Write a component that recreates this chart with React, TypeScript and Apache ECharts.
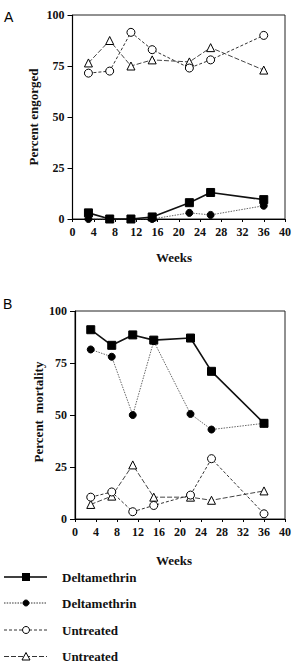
import React, { useEffect, useRef } from "react";
import * as echarts from "echarts";

const weeks = [3, 7, 11, 15, 22, 26, 36];
const xTicks = [0, 40, 4];
const yTicks = [0, 100, 25];

// Panel A: percent engorged
const engDeltaSquare = [3, 0, 0, 1, 8, 13, 9.5];
const engDeltaDot = [0, 0, 0, 0, 3, 2, 6.5];
const engUntreatedCircle = [71.5, 72.5, 91.5, 83, 74, 78, 90];
const engUntreatedTriangle = [76.5, 87.5, 75, 78, 77, 84, 73];

// Panel B: percent mortality
const morDeltaSquare = [91, 83.5, 88.5, 86, 87, 71, 46];
const morDeltaDot = [81.5, 78, 50, 85.5, 50.5, 43, 46];
const morUntreatedCircle = [10.5, 13, 3.5, 6.5, 11.5, 29, 2.5];
const morUntreatedTriangle = [7, 11, 26, 10.5, 10.5, 9, 13.5];

const legendNames = ["Deltamethrin", "Deltamethrin", "Untreated", "Untreated"];

const SERIF = "'Liberation Serif', 'DejaVu Serif', serif";

export default function App() {
  const ref = useRef<HTMLDivElement>(null);
  useEffect(() => {
    document.body.style.margin = "0";
    const chart = echarts.init(ref.current!, null, { renderer: "svg" });
    const pair = (ys: number[]) => weeks.map((w, i) => [w, ys[i]]);

    const styles = [
      { symbol: "rect", size: 8, fill: "#000", line: { color: "#111", width: 1.6, type: "solid" as any } },
      { symbol: "circle", size: 7, fill: "#000", line: { color: "#666", width: 1, type: [1.5, 1.2] as any } },
      { symbol: "circle", size: 8, fill: "#fff", line: { color: "#333", width: 1, type: [3, 2] as any } },
      { symbol: "triangle", size: 8, fill: "#fff", line: { color: "#444", width: 1, type: [5, 2] as any } },
    ];

    const mk = (data: number[], k: number, gi: number) => {
      const s = styles[k];
      return {
        type: "line",
        xAxisIndex: gi,
        yAxisIndex: gi,
        data: pair(data),
        symbol: s.symbol,
        symbolSize: s.size,
        showAllSymbol: true,
        lineStyle: s.line,
        itemStyle: { color: s.fill, borderColor: "#000", borderWidth: 1 },
        z: 10 - k,
        silent: true,
      };
    };

    const xAxis = (gi: number) => ({
      type: "value",
      gridIndex: gi,
      min: xTicks[0],
      max: xTicks[1],
      interval: xTicks[2],
      axisLine: { show: true, onZero: false, lineStyle: { color: "#000", width: 1.2 } },
      axisTick: { show: true, inside: false, length: 3, lineStyle: { color: "#000" } },
      axisLabel: { color: "#111", fontFamily: SERIF, fontWeight: "bold", fontSize: 12, margin: 7 },
      splitLine: { show: false },
    });
    const yAxis = (gi: number) => ({
      type: "value",
      gridIndex: gi,
      min: yTicks[0],
      max: yTicks[1],
      interval: yTicks[2],
      axisLine: { show: true, onZero: false, lineStyle: { color: "#000", width: 1.2 } },
      axisTick: { show: true, inside: false, length: 5, lineStyle: { color: "#000" } },
      axisLabel: { color: "#111", fontFamily: SERIF, fontWeight: "bold", fontSize: 12, margin: 8 },
      splitLine: { show: false },
    });

    const titleStyle = { fill: "#111", font: `bold 13px ${SERIF}` };
    const graphics: any[] = [
      { type: "text", left: 4, top: 10, style: { text: "A", fill: "#000", font: "14px 'Liberation Sans', Arial, sans-serif" } },
      { type: "text", left: 3, top: 297, style: { text: "B", fill: "#000", font: "14px 'Liberation Sans', Arial, sans-serif" } },
      { type: "text", x: 174, y: 257, style: { ...titleStyle, text: "Weeks", align: "center", verticalAlign: "middle" } },
      { type: "text", x: 174, y: 560, style: { ...titleStyle, text: "Weeks", align: "center", verticalAlign: "middle" } },
      { type: "text", x: 33, y: 117, rotation: Math.PI / 2, style: { ...titleStyle, text: "Percent engorged", align: "center", verticalAlign: "middle" } },
      { type: "text", x: 38, y: 412, rotation: Math.PI / 2, style: { ...titleStyle, text: "Percent  mortality", align: "center", verticalAlign: "middle" } },
    ];

    const rowsY = [577, 603, 630, 656.5];
    rowsY.forEach((y, k) => {
      const s = styles[k];
      graphics.push({
        type: "line",
        shape: { x1: 4, y1: y, x2: 47, y2: y },
        style: { stroke: k === 0 ? "#000" : "#333", lineWidth: s.line.width, lineDash: k === 0 ? null : s.line.type },
      });
      if (s.symbol === "rect") {
        graphics.push({ type: "rect", shape: { x: 22, y: y - 4, width: 8, height: 8 }, style: { fill: "#000" } });
      } else if (s.symbol === "circle") {
        graphics.push({ type: "circle", shape: { cx: 26, cy: y, r: s.size / 2 - 0.5 }, style: { fill: s.fill, stroke: "#000", lineWidth: 1 } });
      } else {
        graphics.push({ type: "polygon", shape: { points: [[26, y - 4], [30, y + 3.5], [22, y + 3.5]] }, style: { fill: "#fff", stroke: "#000", lineWidth: 1 } });
      }
      graphics.push({ type: "text", x: 62, y, style: { text: legendNames[k], fill: "#111", font: `bold 13px ${SERIF}`, verticalAlign: "middle" } });
    });

    chart.setOption({
      animation: false,
      backgroundColor: "#fff",
      grid: [
        { left: 72.5, top: 15, width: 213.5, height: 204, show: true, borderColor: "#222", borderWidth: 1, backgroundColor: "transparent" },
        { left: 75, top: 311, width: 212, height: 208, show: true, borderColor: "#222", borderWidth: 1, backgroundColor: "transparent" },
      ],
      xAxis: [xAxis(0), xAxis(1)],
      yAxis: [yAxis(0), yAxis(1)],
      series: [
        mk(engUntreatedTriangle, 3, 0),
        mk(engUntreatedCircle, 2, 0),
        mk(engDeltaDot, 1, 0),
        mk(engDeltaSquare, 0, 0),
        mk(morUntreatedTriangle, 3, 1),
        mk(morUntreatedCircle, 2, 1),
        mk(morDeltaDot, 1, 1),
        mk(morDeltaSquare, 0, 1),
      ],
      graphic: graphics,
    });
    return () => chart.dispose();
  }, []);
  return <div ref={ref} style={{ width: 294, height: 665, position: "absolute", left: 0, top: 0 }} />;
}
